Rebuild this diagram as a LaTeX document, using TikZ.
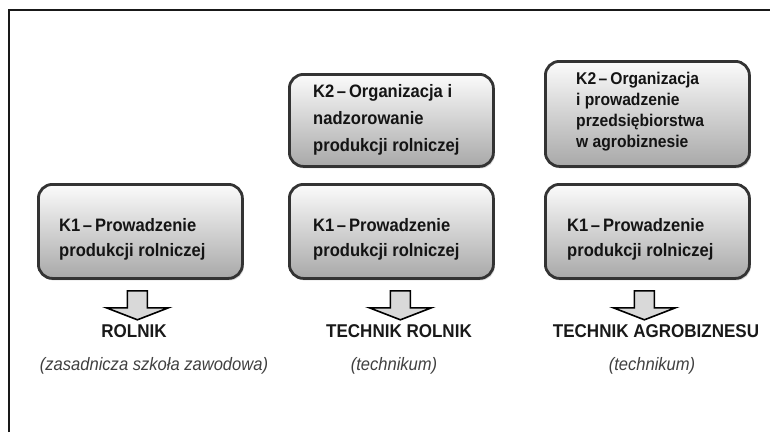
\documentclass[tikz,border=0pt]{standalone}
\usepackage{fontspec}
\setmainfont{Liberation Sans}[FakeStretch=0.92]
\usetikzlibrary{shadows,calc}
\newcommand\kdash{\hspace{2.5pt}–\hspace{3pt}}
\begin{document}
\begin{tikzpicture}[x=1pt,y=-1pt,
  box/.style={draw=gray!40!black, line width=2.8pt, rounded corners=14pt,
    top color=gray!3, bottom color=gray!68, anchor=north west,
    minimum width=204pt, inner sep=0pt,
    drop shadow={shadow xshift=1.5pt, shadow yshift=-2pt, opacity=0.3}},
  txt/.style={font=\bfseries\fontsize{18}{25}\selectfont, align=left, inner sep=0pt, text=black!92, anchor=west},
  txtsmall/.style={txt, font=\bfseries\fontsize{17}{21}\selectfont},
  txtmid/.style={txt, font=\bfseries\fontsize{18}{27}\selectfont},
  lab/.style={font=\bfseries\fontsize{18.5}{22}\selectfont, inner sep=0pt, text=black!90},
  note/.style={font=\itshape\fontsize{18}{22}\selectfont, inner sep=0pt, text=black!75},
  blockarr/.pic={\draw[fill=gray!30, line width=1.6pt, line join=miter]
      (-10,0) -- (10,0) -- (10,17) -- (31,17) -- (0,29) -- (-31,17) -- (-10,17) -- cycle;}
]
\useasboundingbox (0,0) rectangle (770,432);
\draw[line width=2pt, black!90] (9,432) -- (9,10) -- (770,10);

% boxes
\node[box, minimum height=94pt] (k1a) at (37,183) {};
\node[box, minimum height=94pt] (k1b) at (288,183) {};
\node[box, minimum height=94pt] (k1c) at (544,183) {};
\node[box, minimum height=92pt] (k2b) at (288,73) {};
\node[box, minimum height=105pt] (k2c) at (544,60) {};

% texts
\node[txt] (t1a) at (59,239.5) {K1\kdash Prowadzenie\\produkcji rolniczej};
\node[txt] (t1b) at (313,239.5) {K1\kdash Prowadzenie\\produkcji rolniczej};
\node[txt] (t1c) at (567,239.5) {K1\kdash Prowadzenie\\produkcji rolniczej};
\node[txtmid] (t2b) at (313,120) {K2\kdash Organizacja i\\nadzorowanie\\produkcji rolniczej};
\node[txtsmall] (t2c) at (576,111.5) {K2\kdash Organizacja\\i prowadzenie\\przedsiębiorstwa\\w agrobiznesie};

% arrows
\pic at ($(k1a.south)+(-3,11)$) {blockarr};
\pic at ($(k1b.south)+(9,11)$) {blockarr};
\pic at ($(k1c.south)+(-3,11)$) {blockarr};

% labels
\node[lab] (la) at (134,331) {ROLNIK};
\node[lab] (lb) at (399,331) {TECHNIK ROLNIK};
\node[lab] (lc) at (656,331) {TECHNIK AGROBIZNESU};
\node[note] (na) at (154,366) {(zasadnicza szkoła zawodowa)};
\node[note] (nb) at (394,366) {(technikum)};
\node[note] (nc) at (652,366) {(technikum)};
\end{tikzpicture}
\end{document}
